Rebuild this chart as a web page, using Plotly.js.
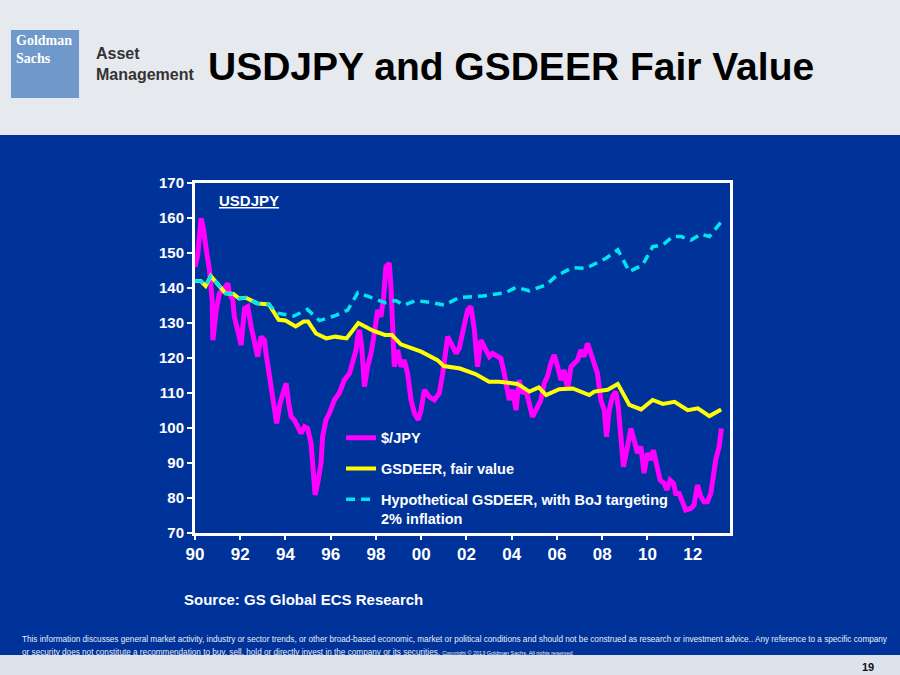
<!DOCTYPE html>
<html>
<head>
<meta charset="utf-8">
<script src="https://cdn.plot.ly/plotly-3.0.1.min.js"></script>
<style>
html,body{margin:0;padding:0;background:#003399;}
#chart{width:900px;height:675px;}
</style>
</head>
<body>
<div id="chart"></div>
<script>
// ---- Data ----
const usdjpyYears = [1990.00,1990.12,1990.27,1990.38,1990.50,1990.64,1990.76,1990.79,1990.94,1991.08,1991.23,1991.45,1991.52,1991.67,1991.74,1991.89,1992.04,1992.19,1992.33,1992.48,1992.63,1992.77,1992.92,1993.07,1993.14,1993.29,1993.44,1993.61,1993.76,1993.91,1994.03,1994.14,1994.25,1994.39,1994.54,1994.69,1994.84,1994.98,1995.13,1995.23,1995.31,1995.42,1995.57,1995.64,1995.79,1995.94,1996.16,1996.38,1996.60,1996.83,1996.97,1997.12,1997.19,1997.27,1997.37,1997.49,1997.63,1997.78,1997.93,1998.07,1998.22,1998.34,1998.44,1998.59,1998.67,1998.74,1998.81,1998.96,1999.11,1999.25,1999.40,1999.55,1999.70,1999.87,1999.99,2000.14,2000.36,2000.58,2000.80,2000.95,2001.17,2001.32,2001.54,2001.68,2001.76,2001.90,2002.05,2002.20,2002.35,2002.49,2002.64,2002.79,2003.01,2003.15,2003.37,2003.52,2003.67,2003.89,2004.04,2004.19,2004.33,2004.48,2004.63,2004.78,2004.92,2005.07,2005.29,2005.44,2005.58,2005.73,2005.88,2006.03,2006.18,2006.32,2006.47,2006.62,2006.76,2006.91,2007.06,2007.20,2007.35,2007.50,2007.65,2007.79,2007.94,2008.09,2008.19,2008.31,2008.45,2008.60,2008.71,2008.82,2008.94,2009.12,2009.27,2009.41,2009.56,2009.71,2009.85,2010.00,2010.15,2010.26,2010.41,2010.56,2010.74,2010.86,2011.00,2011.15,2011.25,2011.40,2011.55,2011.69,2011.92,2012.06,2012.21,2012.36,2012.50,2012.65,2012.80,2012.91,2013.02,2013.17,2013.27];
const usdjpyValues = [146.0,149.4,159.9,156.6,150.9,145.1,136.6,125.1,133.7,138.5,139.4,141.3,138.5,136.6,131.8,128.0,123.7,134.2,134.7,129.0,125.1,120.4,126.1,125.1,121.3,114.7,107.1,101.3,107.1,109.9,112.8,107.1,103.2,102.3,100.4,98.5,100.4,99.9,95.6,86.1,80.9,84.2,89.9,97.5,102.3,104.2,108.0,110.0,113.7,115.6,118.5,122.3,126.1,128.0,123.2,111.8,117.5,121.3,127.1,133.7,131.8,137.5,146.1,147.1,139.4,124.2,117.5,122.3,117.5,119.4,115.6,108.0,104.2,102.3,105.1,110.9,108.9,108.0,109.9,115.6,126.1,124.2,121.3,122.8,125.1,128.0,133.7,134.7,128.0,117.5,125.1,123.2,120.4,121.3,120.4,119.9,115.6,108.0,110.9,105.1,113.7,109.9,110.9,106.1,103.2,105.1,108.0,112.8,114.7,118.5,120.9,117.5,113.7,116.6,110.9,117.5,118.5,119.4,122.3,120.4,124.2,121.3,117.5,115.6,108.0,105.1,97.5,105.1,108.9,110.4,106.1,96.6,88.9,94.7,99.9,96.6,92.8,94.7,87.1,92.8,90.9,93.7,89.9,85.1,84.2,82.3,85.1,84.2,81.3,81.3,78.9,76.6,77.0,78.0,83.7,80.4,78.9,78.9,81.3,86.1,90.9,94.7,99.9];

const gsdeerYears = [1990.00,1990.25,1990.47,1990.70,1991.35,1991.70,1991.95,1992.25,1992.75,1993.27,1993.70,1994.00,1994.45,1994.80,1995.00,1995.35,1995.80,1996.20,1996.70,1997.22,1997.87,1998.40,1998.70,1999.10,2000.00,2000.72,2001.00,2001.72,2002.40,2003.00,2003.45,2004.26,2004.78,2005.20,2005.52,2006.10,2006.70,2007.43,2007.65,2008.24,2008.69,2009.20,2009.72,2010.23,2010.68,2011.20,2011.78,2012.23,2012.74,2013.26];
const gsdeerValues = [142.0,142.0,140.6,143.4,138.5,138.3,137.0,137.2,135.6,135.3,130.9,130.7,129.0,130.4,130.4,127.0,125.6,126.1,125.6,130.0,127.8,126.6,126.6,123.9,121.8,119.4,117.7,117.0,115.4,113.2,113.2,112.6,110.4,111.6,109.4,111.1,111.3,109.4,110.4,110.9,112.6,106.6,105.3,108.0,106.9,107.5,105.1,105.6,103.4,105.3];

const hypoYears = [1990.00,1990.25,1990.47,1990.70,1991.35,1991.70,1991.95,1992.25,1992.75,1993.27,1993.65,1994.38,1994.97,1995.50,1996.15,1996.75,1997.20,1997.85,1998.40,1998.88,1999.25,1999.77,2000.50,2001.02,2001.68,2002.71,2003.23,2003.75,2004.19,2004.78,2005.52,2005.96,2006.68,2007.28,2008.17,2008.69,2009.20,2009.79,2010.23,2010.68,2011.12,2011.49,2011.93,2012.37,2012.74,2013.26];
const hypoValues = [142.0,142.0,140.6,143.4,138.5,138.3,137.0,137.2,135.6,135.3,132.8,132.0,133.9,130.7,132.0,133.7,138.7,137.0,135.8,136.4,135.1,136.4,135.8,135.1,137.3,137.7,138.3,138.7,140.2,139.2,140.9,143.4,145.8,145.6,148.5,150.9,144.7,146.6,151.8,152.3,154.7,154.7,153.7,155.4,154.7,158.9];

const xTickVals = [1990,1992,1994,1996,1998,2000,2002,2004,2006,2008,2010,2012];
const xTickText = ['90','92','94','96','98','00','02','04','06','08','10','12'];
const yTickVals = [70,80,90,100,110,120,130,140,150,160,170];

const seriesNames = ['$/JPY','GSDEER, fair value','Hypothetical GSDEER, with BoJ targeting<br>2% inflation'];

// ---- Styling ----
const BLUE = '#003399';
const FONT = 'Liberation Sans, Arial, sans-serif';

const traces = [
  {x: usdjpyYears, y: usdjpyValues, name: seriesNames[0], type: 'scatter', mode: 'lines',
   line: {color: '#ff00ff', width: 5}, legendgroup: 'a'},
  {x: gsdeerYears, y: gsdeerValues, name: seriesNames[1], type: 'scatter', mode: 'lines',
   line: {color: '#ffff00', width: 4}, legendgroup: 'b'},
  {x: hypoYears, y: hypoValues, name: seriesNames[2], type: 'scatter', mode: 'lines',
   line: {color: '#00e5ee', width: 3.5, dash: '9px,6px'}, legendgroup: 'c'}
];

const layout = {
  width: 900, height: 675,
  paper_bgcolor: BLUE, plot_bgcolor: BLUE,
  margin: {l: 195, r: 170, t: 183, b: 142, pad: 0},
  font: {family: FONT, color: '#ffffff'},
  showlegend: true,
  legend: {
    x: 0.273, y: 0.318, xanchor: 'left', yanchor: 'top',
    bgcolor: 'rgba(0,0,0,0)', borderwidth: 0,
    font: {family: FONT, size: 14.5, color: '#ffffff', weight: 'bold'},
    traceorder: 'grouped', tracegroupgap: 9, valign: 'top', itemwidth: 30
  },
  xaxis: {
    range: [1990, 2013.65], tickvals: xTickVals, ticktext: xTickText,
    showgrid: false, zeroline: false,
    showline: true, linecolor: '#ffffff', linewidth: 3, mirror: true,
    ticks: 'outside', ticklen: 4, tickwidth: 2, tickcolor: '#ffffff',
    tickfont: {family: FONT, size: 17, color: '#ffffff', weight: 'bold'}
  },
  yaxis: {
    range: [70, 170], tickvals: yTickVals,
    showgrid: false, zeroline: false,
    showline: true, linecolor: '#ffffff', linewidth: 3, mirror: true,
    ticks: 'outside', ticklen: 5, tickwidth: 2, tickcolor: '#ffffff',
    tickfont: {family: FONT, size: 15, color: '#ffffff', weight: 'bold'}
  },
  shapes: [
    // top light band
    {type: 'rect', xref: 'paper', yref: 'paper', x0: -0.5, x1: 1.5, y0: 1.1371, y1: 1.7,
     fillcolor: '#e6e9ee', line: {width: 0}, layer: 'below'},
    // bottom light band
    {type: 'rect', xref: 'paper', yref: 'paper', x0: -0.5, x1: 1.5, y0: -0.6, y1: -0.3486,
     fillcolor: '#dce3ec', line: {width: 0}, layer: 'below'},
    // logo square
    {type: 'rect', xref: 'paper', yref: 'paper', x0: -0.3439, x1: -0.2168, y0: 1.2429, y1: 1.4371,
     fillcolor: '#6f98cb', line: {width: 0}, layer: 'below'}
  ],
  annotations: [
    {xref: 'paper', yref: 'paper', x: 0.591, y: 1.334, xanchor: 'center', yanchor: 'middle', showarrow: false,
     text: 'USDJPY and GSDEER Fair Value', font: {family: FONT, size: 39, color: '#000000', weight: 'bold'}},
    {xref: 'paper', yref: 'paper', x: -0.189, y: 1.341, xanchor: 'left', yanchor: 'middle', showarrow: false, align: 'left',
     text: 'Asset<br>Management', font: {family: FONT, size: 16, color: '#333333', weight: 'bold'}},
    {xref: 'paper', yref: 'paper', x: -0.3365, y: 1.432, xanchor: 'left', yanchor: 'top', showarrow: false, align: 'left',
     borderpad: 0,
     text: 'Goldman<br>Sachs', font: {family: 'Liberation Serif, serif', size: 14, color: '#ffffff', weight: 'bold'}},
    {xref: 'paper', yref: 'paper', x: 0.041, y: 0.949, xanchor: 'left', yanchor: 'middle', showarrow: false,
     text: '<u>USDJPY</u>', font: {family: FONT, size: 15, color: '#ffffff', weight: 'bold'}},
    {xref: 'paper', yref: 'paper', x: -0.024, y: -0.191, xanchor: 'left', yanchor: 'middle', showarrow: false,
     text: 'Source: GS Global ECS Research', font: {family: FONT, size: 15, color: '#ffffff', weight: 'bold'}},
    {xref: 'paper', yref: 'paper', x: -0.327, y: -0.3057, xanchor: 'left', yanchor: 'middle', showarrow: false,
     text: 'This information discusses general market activity, industry or sector trends, or other broad-based economic, market or political conditions and should not be construed as research or investment advice.. Any reference to a specific company',
     font: {family: FONT, size: 8.2, color: '#e8eef6'}},
    {xref: 'paper', yref: 'paper', x: -0.327, y: -0.340, xanchor: 'left', yanchor: 'middle', showarrow: false,
     text: 'or security does not constitute a recommendation to buy, sell, hold or directly invest in the company or its securities. <span style="font-size:5.5px">Copyright © 2013 Goldman Sachs. All rights reserved</span>',
     font: {family: FONT, size: 8.2, color: '#e8eef6'}},
    {xref: 'paper', yref: 'paper', x: 1.258, y: -0.383, xanchor: 'center', yanchor: 'middle', showarrow: false,
     text: '19', font: {family: FONT, size: 11, color: '#111111', weight: 'bold'}}
  ]
};

Plotly.newPlot('chart', traces, layout, {displayModeBar: false, staticPlot: true});
</script>
</body>
</html>
